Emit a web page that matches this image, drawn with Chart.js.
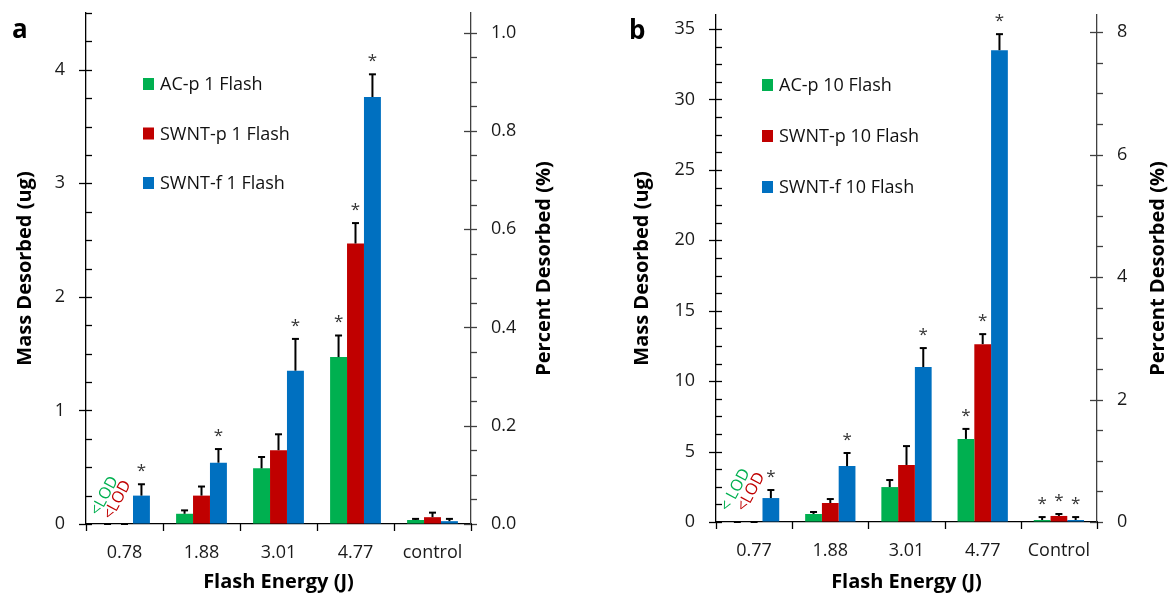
<!DOCTYPE html>
<html><head><meta charset="utf-8">
<script src="https://cdn.jsdelivr.net/npm/chart.js@4"></script>
<style>
html,body{margin:0;padding:0;background:#fff;overflow:hidden;}
#wrap{position:relative;width:1170px;height:594px;}
.pc{position:absolute;top:0;width:585px;height:594px;}
</style></head><body>
<div id="wrap">
<div class="pc" style="left:0"><canvas id="ca" width="585" height="594"></canvas></div>
<div class="pc" style="left:585px"><canvas id="cb" width="585" height="594"></canvas></div>
</div>
<script>
// ---------- Panel a data (1 flash) ----------
const categoriesA = ['0.78', '1.88', '3.01', '4.77', 'control'];
const legendA = ['AC-p 1 Flash', 'SWNT-p 1 Flash', 'SWNT-f 1 Flash'];
const acpA = [0, 0.09, 0.49, 1.47, 0.035];
const swntpA = [0, 0.25, 0.65, 2.47, 0.06];
const swntfA = [0.25, 0.54, 1.35, 3.76, 0.025];
const acpErrA = [0, 0.03, 0.10, 0.19, 0.01];
const swntpErrA = [0, 0.08, 0.14, 0.18, 0.04];
const swntfErrA = [0.10, 0.12, 0.28, 0.20, 0.02];
const acpStarA = [0, 0, 0, 1, 0];
const swntpStarA = [0, 0, 0, 1, 0];
const swntfStarA = [1, 1, 1, 1, 0];
const acpLodA = [1, 0, 0, 0, 0];
const swntpLodA = [1, 0, 0, 0, 0];
const lodTextA = ['<LOD', '<LOD'];

// ---------- Panel b data (10 flashes) ----------
const categoriesB = ['0.77', '1.88', '3.01', '4.77', 'Control'];
const legendB = ['AC-p 10 Flash', 'SWNT-p 10 Flash', 'SWNT-f 10 Flash'];
const acpB = [0, 0.57, 2.48, 5.9, 0.14];
const swntpB = [0, 1.35, 4.05, 12.63, 0.43];
const swntfB = [1.7, 3.97, 11.0, 33.5, 0.14];
const acpErrB = [0, 0.14, 0.50, 0.71, 0.21];
const swntpErrB = [0, 0.28, 1.34, 0.71, 0.14];
const swntfErrB = [0.57, 0.93, 1.35, 1.14, 0.21];
const acpStarB = [0, 0, 0, 1, 1];
const swntpStarB = [0, 0, 0, 1, 1];
const swntfStarB = [1, 1, 1, 1, 1];
const acpLodB = [1, 0, 0, 0, 0];
const swntpLodB = [1, 0, 0, 0, 0];
const lodTextB = ['< LOD', '<LOD'];

// ---------- axis tick settings ----------
const massTicksA = { max: 4.5, major: 1, minor: 0.25, dec: 0 };
const pctTicksA = { max: 1.04, major: 0.2, minor: 0.05, dec: 1 };
const massTicksB = { max: 36, major: 5, minor: 1.25, dec: 0 };
const pctTicksB = { max: 8.28, major: 2, minor: 0.5, dec: 0 };

const F = "'Open Sans', 'Liberation Sans', sans-serif";
const COLORS = ['#00B050', '#C00000', '#0070C0'];

const panelA = {
  letter: 'a', cats: categoriesA, names: legendA,
  series: [acpA, swntpA, swntfA], errs: [acpErrA, swntpErrA, swntfErrA],
  stars: [acpStarA, swntpStarA, swntfStarA], lods: [acpLodA, swntpLodA], lodText: lodTextA,
  yT: massTicksA, y1T: pctTicksA,
  box: { left: 86, right: 471, top: 13, bottom: 524 },
  legend: { x: 143, y: 84, dy: 49.5 },
  lodOff: [[-3, 28], [-7, 24]],
  titleL: 61, titleR: 73, letterPos: [12, 38]
};
const panelB = {
  letter: 'b', cats: categoriesB, names: legendB,
  series: [acpB, swntpB, swntfB], errs: [acpErrB, swntpErrB, swntfErrB],
  stars: [acpStarB, swntpStarB, swntfStarB], lods: [acpLodB, swntpLodB], lodText: lodTextB,
  yT: massTicksB, y1T: pctTicksB,
  box: { left: 131, right: 512, top: 15, bottom: 522 },
  legend: { x: 177, y: 85, dy: 51 },
  lodOff: [[-2, 32], [-3, 30]],
  titleL: 74, titleR: 61, letterPos: [44, 39]
};
const PANELS = { ca: panelA, cb: panelB };

const decor = {
  id: 'decor',
  afterDraw(chart) {
    const P = PANELS[chart.canvas.id];
    const ctx = chart.ctx, ca = chart.chartArea;
    const ys = chart.scales.y, y1 = chart.scales.y1, xs = chart.scales.x;
    ctx.save();
    // y tick marks
    const axisTicks = (scale, ax, T, color) => {
      ctx.strokeStyle = color; ctx.lineWidth = 1.3;
      const n = Math.floor(T.max / T.minor + 1e-9);
      for (let i = 0; i <= n; i++) {
        const v = i * T.minor;
        const py = Math.round(scale.getPixelForValue(v)) + 0.5;
        const maj = Math.abs(v / T.major - Math.round(v / T.major)) < 1e-6;
        ctx.beginPath(); ctx.moveTo(maj ? ax - 7 : ax, py); ctx.lineTo(ax + 6, py); ctx.stroke();
      }
    };
    axisTicks(ys, ca.left, P.yT, '#000');
    axisTicks(y1, ca.right, P.y1T, '#404040');
    // x boundary ticks
    ctx.strokeStyle = '#000'; ctx.lineWidth = 1.3;
    for (let i = 0; i <= P.cats.length; i++) {
      const px = Math.round(xs.getPixelForValue(i - 0.5)) + 0.5;
      ctx.beginPath(); ctx.moveTo(px, ca.bottom); ctx.lineTo(px, ca.bottom + 7); ctx.stroke();
    }
    // error bars + stars
    P.series.forEach((s, k) => {
      const meta = chart.getDatasetMeta(k);
      s.forEach((v, i) => {
        const bx = meta.data[i].x;
        const yb = ys.getPixelForValue(v);
        const yt = ys.getPixelForValue(v + P.errs[k][i]);
        ctx.strokeStyle = '#000'; ctx.lineWidth = 2;
        ctx.beginPath(); ctx.moveTo(bx, yb); ctx.lineTo(bx, yt); ctx.stroke();
        ctx.beginPath(); ctx.moveTo(bx - 3.5, yt); ctx.lineTo(bx + 3.5, yt); ctx.stroke();
        if (P.stars[k][i]) {
          ctx.fillStyle = '#333'; ctx.font = '17px ' + F;
          ctx.textAlign = 'center'; ctx.textBaseline = 'alphabetic';
          ctx.fillText('*', bx, yt - 8);
        }
      });
    });
    // <LOD labels
    P.lods.forEach((arr, k) => {
      const meta = chart.getDatasetMeta(k);
      arr.forEach((f, i) => {
        if (!f) return;
        const bx = meta.data[i].x + P.lodOff[k][0];
        const by = ys.getPixelForValue(0) - P.lodOff[k][1];
        ctx.save(); ctx.translate(bx, by); ctx.rotate(-62 * Math.PI / 180);
        ctx.fillStyle = COLORS[k]; ctx.font = '16px ' + F;
        ctx.textAlign = 'center'; ctx.textBaseline = 'middle';
        ctx.fillText(P.lodText[k], 0, 0);
        ctx.restore();
      });
    });
    // legend
    P.names.forEach((nm, k) => {
      const y = P.legend.y + k * P.legend.dy;
      ctx.fillStyle = COLORS[k];
      ctx.fillRect(P.legend.x, y - 6, 11, 12);
      ctx.fillStyle = '#111'; ctx.font = '18px ' + F;
      ctx.textAlign = 'left'; ctx.textBaseline = 'middle';
      ctx.fillText(nm, P.legend.x + 17, y + 1);
    });
    // axis titles
    ctx.fillStyle = '#000'; ctx.font = 'bold 20px ' + F;
    ctx.textAlign = 'center'; ctx.textBaseline = 'middle';
    const cy = (ca.top + ca.bottom) / 2;
    ctx.save(); ctx.translate(ca.left - P.titleL, cy); ctx.rotate(-Math.PI / 2);
    ctx.fillText('Mass Desorbed (ug)', 0, 0); ctx.restore();
    ctx.save(); ctx.translate(ca.right + P.titleR, cy); ctx.rotate(-Math.PI / 2);
    ctx.fillText('Percent Desorbed (%)', 0, 0); ctx.restore();
    ctx.fillText('Flash Energy (J)', (ca.left + ca.right) / 2, 582);
    // panel letter
    ctx.font = 'bold 26px ' + F; ctx.textAlign = 'left'; ctx.textBaseline = 'alphabetic';
    ctx.fillText(P.letter, P.letterPos[0], P.letterPos[1]);
    ctx.restore();
  }
};

function fmt(T) {
  return v => (Math.abs(v / T.major - Math.round(v / T.major)) < 1e-6) ? v.toFixed(T.dec) : '';
}
const hiddenGrid = len => ({ display: true, drawOnChartArea: false, drawTicks: true, tickLength: len, tickColor: 'rgba(0,0,0,0)', color: 'rgba(0,0,0,0)' });

function makeChart(id) {
  const P = PANELS[id];
  return new Chart(document.getElementById(id), {
    type: 'bar',
    data: {
      labels: P.cats,
      datasets: P.series.map((s, k) => ({
        label: P.names[k], data: s, backgroundColor: COLORS[k], borderWidth: 0,
        barPercentage: 1, categoryPercentage: 0.66, yAxisID: 'y'
      }))
    },
    options: {
      responsive: false, animation: false, devicePixelRatio: 1,
      layout: { padding: { top: P.box.top, left: 0, right: 0, bottom: 0 } },
      plugins: { legend: { display: false }, tooltip: { enabled: false } },
      scales: {
        x: {
          type: 'category', offset: true,
          grid: Object.assign(hiddenGrid(18), { offset: true }),
          border: { display: true, color: '#000', width: 1.3 },
          ticks: { font: { family: F, size: 18 }, color: '#1a1a1a', padding: 0, maxRotation: 0, autoSkip: false },
          afterFit: s => { s.height = 594 - P.box.bottom; }
        },
        y: {
          position: 'left', min: 0, max: P.yT.max,
          grid: hiddenGrid(21),
          border: { display: true, color: '#000', width: 1.3 },
          ticks: { stepSize: P.yT.major, includeBounds: false, autoSkip: false, padding: 0,
                   font: { family: F, size: 18 }, color: '#1a1a1a', callback: fmt(P.yT) },
          afterFit: s => { s.width = P.box.left; }
        },
        y1: {
          position: 'right', min: 0, max: P.y1T.max,
          grid: hiddenGrid(20),
          border: { display: true, color: '#404040', width: 1.3 },
          ticks: { stepSize: P.y1T.major, includeBounds: false, autoSkip: false, padding: 0,
                   font: { family: F, size: 18 }, color: '#1a1a1a', callback: fmt(P.y1T) },
          afterFit: s => { s.width = 585 - P.box.right; }
        }
      }
    },
    plugins: [decor]
  });
}
makeChart('ca');
makeChart('cb');
</script>
</body></html>
